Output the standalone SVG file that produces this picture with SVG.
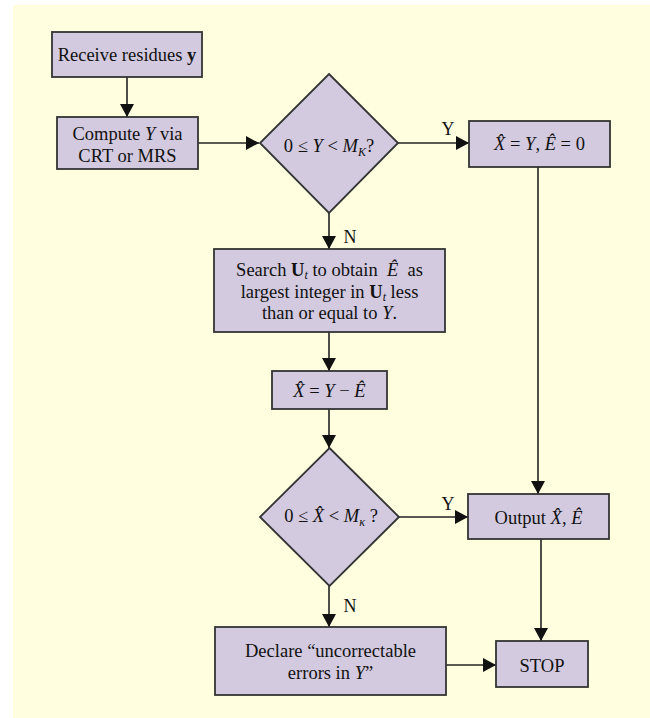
<svg xmlns="http://www.w3.org/2000/svg" width="650" height="718" viewBox="0 0 650 718">
<defs>
<style>
.bg{fill:#FFFFE0}
.n{fill:#D3CAE0;stroke:#333;stroke-width:1.8}
.c{stroke:#222;stroke-width:1.6;fill:none}
text{font-family:"Liberation Serif","Times New Roman",serif;font-size:18.5px;fill:#111;text-anchor:middle}
.i{font-style:italic}
.b{font-weight:bold}
.lbl{font-size:18px}
</style>
<marker id="ah" markerUnits="userSpaceOnUse" markerWidth="14" markerHeight="14" refX="13" refY="7" orient="auto">
<path d="M0,0 L13,7 L0,14 z" fill="#111"/>
</marker>
</defs>
<rect class="bg" x="13" y="5" width="637" height="713"/>
<g id="connectors">
<line class="c" x1="127" y1="77" x2="127" y2="117" marker-end="url(#ah)"/>
<line class="c" x1="198" y1="143" x2="259" y2="143" marker-end="url(#ah)"/>
<line class="c" x1="398" y1="143" x2="469" y2="143" marker-end="url(#ah)"/>
<line class="c" x1="329" y1="213" x2="329" y2="249" marker-end="url(#ah)"/>
<line class="c" x1="329" y1="332" x2="329" y2="371" marker-end="url(#ah)"/>
<line class="c" x1="329" y1="409" x2="329" y2="448" marker-end="url(#ah)"/>
<line class="c" x1="399" y1="517" x2="468" y2="517" marker-end="url(#ah)"/>
<line class="c" x1="329" y1="586" x2="329" y2="627" marker-end="url(#ah)"/>
<line class="c" x1="538" y1="167" x2="538" y2="494" marker-end="url(#ah)"/>
<line class="c" x1="541" y1="539" x2="541" y2="641" marker-end="url(#ah)"/>
<line class="c" x1="446" y1="665" x2="496" y2="665" marker-end="url(#ah)"/>
<text class="lbl" x="448" y="135">Y</text>
<text class="lbl" x="350" y="243">N</text>
<text class="lbl" x="448" y="510">Y</text>
<text class="lbl" x="350" y="612">N</text>
</g>
<g id="receive">
<rect class="n" x="52" y="32" width="150" height="45"/>
<text x="127" y="61">Receive residues <tspan class="b">y</tspan></text>
</g>
<g id="compute">
<rect class="n" x="57" y="117" width="141" height="52"/>
<text x="127.5" y="140">Compute <tspan class="i">Y</tspan> via</text>
<text x="127.5" y="162">CRT or MRS</text>
</g>
<g id="decision1">
<polygon class="n" points="329,74 398,143 329,213 260,143"/>
<text x="329" y="152">0 ≤ <tspan class="i">Y</tspan> &lt; <tspan class="i">M</tspan><tspan class="i" font-size="12" dy="4">K</tspan><tspan dy="-4">?</tspan></text>
</g>
<g id="assign">
<rect class="n" x="469" y="121" width="141" height="46"/>
<text x="539.5" y="150"><tspan class="i">X̂</tspan> = <tspan class="i">Y</tspan>, <tspan class="i">Ê</tspan> = 0</text>
</g>
<g id="search">
<rect class="n" x="214" y="249" width="231" height="83"/>
<text x="329.5" y="276" xml:space="preserve">Search <tspan class="b">U</tspan><tspan class="i" font-size="12" dy="3">t</tspan><tspan dy="-3"> to obtain  </tspan><tspan class="i">Ê</tspan>  as</text>
<text x="329.5" y="298">largest integer in <tspan class="b">U</tspan><tspan class="i" font-size="12" dy="3">t</tspan><tspan dy="-3"> less</tspan></text>
<text x="329.5" y="319">than or equal to <tspan class="i">Y</tspan>.</text>
</g>
<g id="subtract">
<rect class="n" x="272" y="371" width="115" height="38"/>
<text x="329.5" y="397"><tspan class="i">X̂</tspan> = <tspan class="i">Y</tspan> − <tspan class="i">Ê</tspan></text>
</g>
<g id="decision2">
<polygon class="n" points="329.5,448 399,517 329.5,586 260,517"/>
<text x="331" y="522">0 ≤ <tspan class="i">X̂</tspan> &lt; <tspan class="i">M</tspan><tspan class="i" font-size="12" dy="4">κ</tspan><tspan dy="-4"> ?</tspan></text>
</g>
<g id="output">
<rect class="n" x="468" y="494" width="141" height="45"/>
<text x="538.5" y="524">Output <tspan class="i">X̂</tspan>, <tspan class="i">Ê</tspan></text>
</g>
<g id="declare">
<rect class="n" x="215" y="627" width="231" height="68"/>
<text x="330.5" y="657">Declare “uncorrectable</text>
<text x="330.5" y="678.5">errors in <tspan class="i">Y</tspan>”</text>
</g>
<g id="stop">
<rect class="n" x="496" y="641" width="92" height="46"/>
<text x="542" y="672">STOP</text>
</g>
</svg>
